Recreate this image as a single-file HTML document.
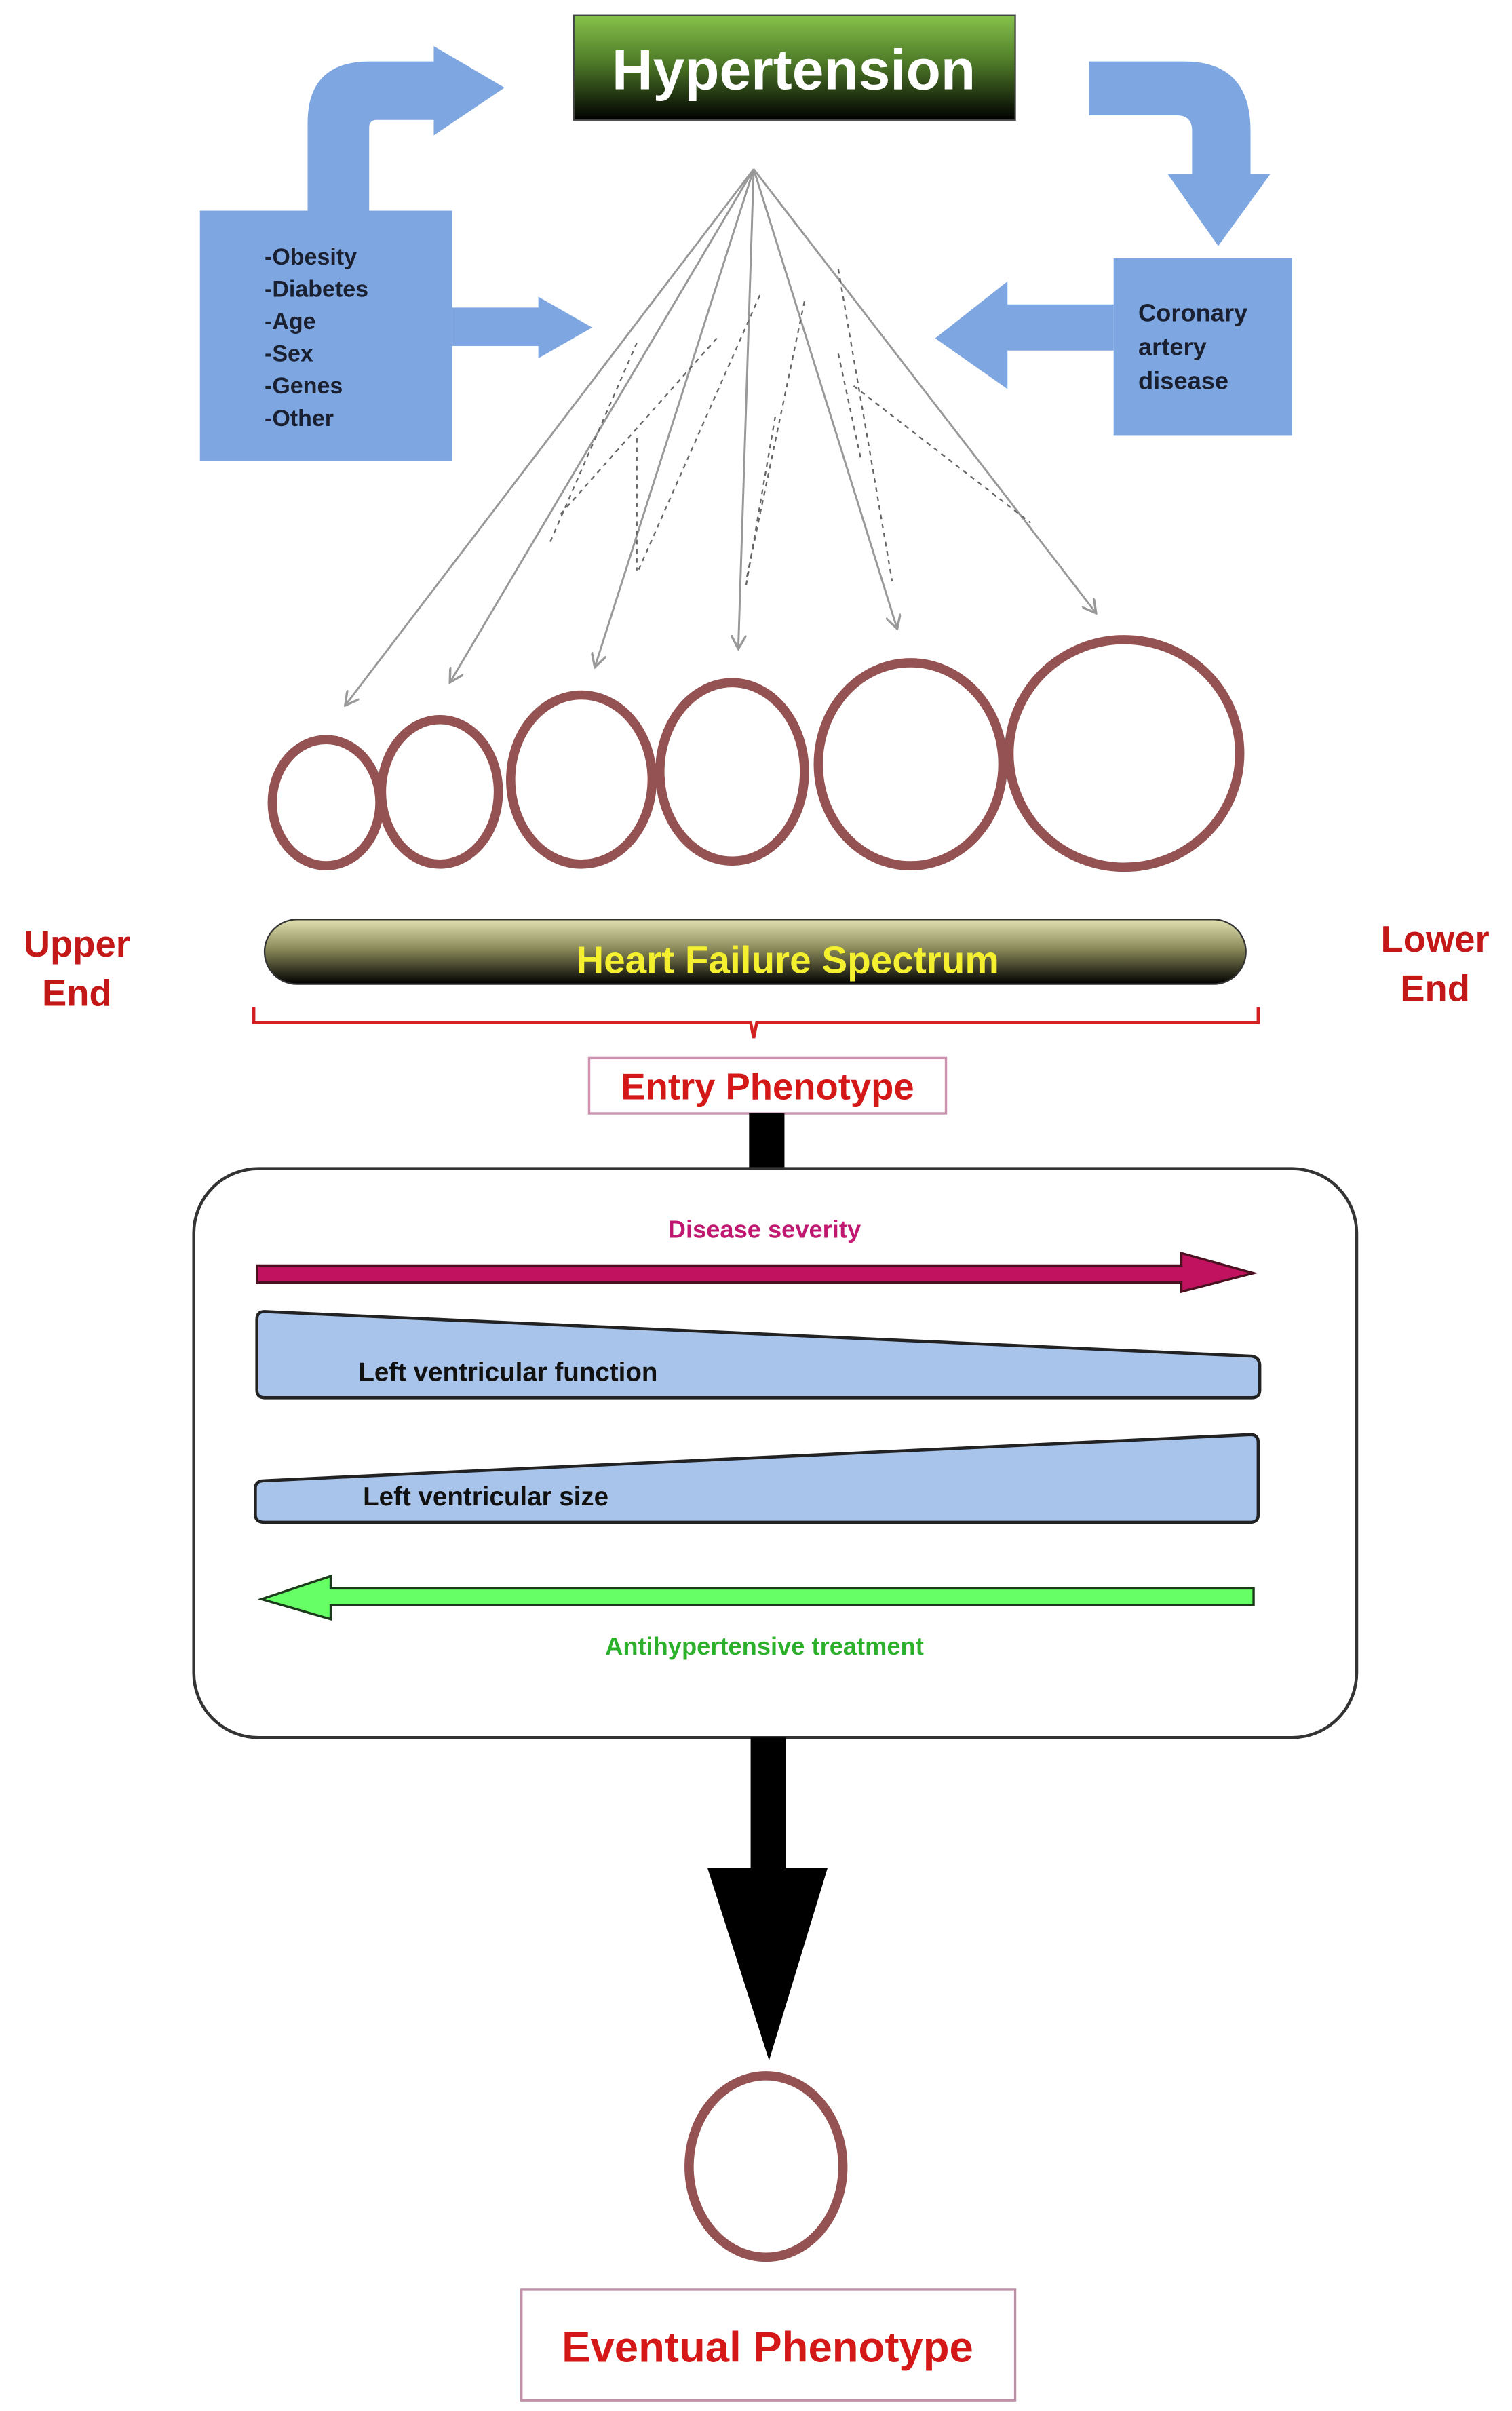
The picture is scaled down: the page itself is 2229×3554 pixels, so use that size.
<!DOCTYPE html>
<html><head><meta charset="utf-8"><style>
html,body{margin:0;padding:0;background:#fff;}
svg{display:block;}
text{font-family:"Liberation Sans",sans-serif;font-weight:bold;}
</style></head><body>
<svg width="2229" height="3554" viewBox="0 0 983 1568" preserveAspectRatio="none" xmlns="http://www.w3.org/2000/svg">
<defs>
<linearGradient id="hg" x1="0" y1="0" x2="0" y2="1"><stop offset="0" stop-color="#86c24a"/><stop offset="0.45" stop-color="#4e7a28"/><stop offset="1" stop-color="#000"/></linearGradient>
<linearGradient id="pg" x1="0" y1="0" x2="0" y2="1"><stop offset="0" stop-color="#e0e0b0"/><stop offset="0.45" stop-color="#8a8a5a"/><stop offset="1" stop-color="#000"/></linearGradient>
<marker id="ah" markerWidth="10" markerHeight="10" refX="8" refY="5" orient="auto" markerUnits="userSpaceOnUse"><path d="M0,0 L9,5 L0,10" fill="none" stroke="#999" stroke-width="1.5"/></marker>
</defs>
<rect width="983" height="1568" fill="#fff"/>

<!-- Hypertension -->
<rect x="373" y="10" width="287" height="68" fill="url(#hg)" stroke="#444" stroke-width="1"/>
<text x="516" y="58" font-size="37" fill="#fff" text-anchor="middle">Hypertension</text>

<!-- left elbow arrow -->
<path d="M200,137 L200,80 Q200,40 240,40 L282,40 L282,30 L328,57 L282,88 L282,78 L245,78 Q240,78 240,83 L240,137 Z" fill="#7ea6e0"/>
<!-- right elbow arrow -->
<path d="M708,40 L770,40 Q813,40 813,85 L813,113 L826,113 L792,160 L759,113 L775,113 L775,85 Q775,75 765,75 L708,75 Z" fill="#7ea6e0"/>

<!-- left box -->
<rect x="130" y="137" width="164" height="163" fill="#7ea6e0"/>
<g font-size="15" fill="#1a2030">
<text x="172" y="172">-Obesity</text>
<text x="172" y="193">-Diabetes</text>
<text x="172" y="214">-Age</text>
<text x="172" y="235">-Sex</text>
<text x="172" y="256">-Genes</text>
<text x="172" y="277">-Other</text>
</g>
<path d="M294,200 L350,200 L350,193 L385,213 L350,233 L350,225 L294,225 Z" fill="#7ea6e0"/>

<!-- coronary -->
<rect x="724" y="168" width="116" height="115" fill="#7ea6e0"/>
<g font-size="16" fill="#1a2030">
<text x="740" y="209">Coronary</text>
<text x="740" y="231">artery</text>
<text x="740" y="253">disease</text>
</g>
<path d="M724,198 L655,198 L655,183 L608,220 L655,253 L655,228 L724,228 Z" fill="#7ea6e0"/>

<!-- fan lines -->
<g stroke="#999" stroke-width="1.3" fill="none" marker-end="url(#ah)">
<line x1="490" y1="110" x2="225" y2="458"/>
<line x1="490" y1="110" x2="293" y2="443"/>
<line x1="490" y1="110" x2="387" y2="433"/>
<line x1="490" y1="110" x2="480" y2="421"/>
<line x1="490" y1="110" x2="583" y2="408"/>
<line x1="490" y1="110" x2="712" y2="398"/>
</g>
<g stroke="#666" stroke-width="1" stroke-dasharray="3,3" fill="none">
<line x1="414" y1="223" x2="357" y2="354"/>
<line x1="494" y1="192" x2="415" y2="371"/>
<line x1="466" y1="220" x2="363" y2="336"/>
<line x1="523" y1="196" x2="485" y2="378"/>
<line x1="545" y1="175" x2="580" y2="378"/>
<line x1="555" y1="251" x2="670" y2="340"/>
<line x1="414" y1="285" x2="414" y2="371"/>
<line x1="504" y1="271" x2="485" y2="381"/>
<line x1="545" y1="230" x2="560" y2="300"/>
</g>

<!-- circles -->
<g fill="none" stroke="#955252" stroke-width="6">
<ellipse cx="212" cy="522" rx="35" ry="41"/>
<ellipse cx="286" cy="515" rx="38" ry="47"/>
<ellipse cx="378" cy="507" rx="46" ry="55"/>
<ellipse cx="476" cy="502" rx="47" ry="58"/>
<ellipse cx="592" cy="497" rx="60" ry="66"/>
<ellipse cx="731" cy="490" rx="75" ry="74"/>
</g>

<!-- spectrum -->
<rect x="172" y="598" width="638" height="42" rx="21" fill="url(#pg)" stroke="#333" stroke-width="1"/>
<text x="512" y="633" font-size="25" fill="#f4f030" text-anchor="middle">Heart Failure Spectrum</text>
<g font-size="24" fill="#c41818" text-anchor="middle">
<text x="50" y="622">Upper</text><text x="50" y="654">End</text>
<text x="933" y="619">Lower</text><text x="933" y="651">End</text>
</g>
<path d="M165,655 L165,665 L488,665 L490,675 L492,665 L818,665 L818,655" fill="none" stroke="#d42020" stroke-width="2"/>

<rect x="383" y="688" width="232" height="36" fill="#fff" stroke="#d090b0" stroke-width="1.5"/>
<text x="499" y="715" font-size="24" fill="#d41818" text-anchor="middle">Entry Phenotype</text>
<rect x="487" y="724" width="23" height="37" fill="#000"/>

<!-- box -->
<rect x="126" y="760" width="756" height="370" rx="42" fill="#fff" stroke="#333" stroke-width="2"/>
<text x="497" y="805" font-size="16" fill="#c01870" text-anchor="middle">Disease severity</text>
<path d="M167,823 L768,823 L768,815 L815,828 L768,840 L768,834 L167,834 Z" fill="#c0125e" stroke="#4a1020" stroke-width="1.5"/>
<path d="M172,853 L814,882 Q819,883 819,888 L819,904 Q819,909 814,909 L172,909 Q167,909 167,904 L167,858 Q167,853 172,853 Z" fill="#a8c4ea" stroke="#222" stroke-width="2"/>
<text x="233" y="898" font-size="17" fill="#111">Left ventricular function</text>
<path d="M172,963 L813,933 Q818,933 818,938 L818,985 Q818,990 813,990 L172,990 Q166,990 166,985 L166,968 Q166,963 172,963 Z" fill="#a8c4ea" stroke="#222" stroke-width="2"/>
<text x="236" y="979" font-size="17" fill="#111">Left ventricular size</text>
<path d="M815,1033 L215,1033 L215,1025 L170,1040 L215,1053 L215,1044 L815,1044 Z" fill="#66ff66" stroke="#1a3a1a" stroke-width="1.5"/>
<text x="497" y="1076" font-size="16" fill="#2cb02c" text-anchor="middle">Antihypertensive treatment</text>

<!-- big arrow -->
<rect x="488" y="1130" width="23" height="86" fill="#000"/>
<path d="M460,1215 L538,1215 L500,1340 Z" fill="#000"/>
<ellipse cx="498" cy="1409" rx="50" ry="59" fill="none" stroke="#955252" stroke-width="6"/>
<rect x="339" y="1489" width="321" height="72" fill="#fff" stroke="#c090a8" stroke-width="1.5"/>
<text x="499" y="1536" font-size="28" fill="#d41818" text-anchor="middle">Eventual Phenotype</text>
</svg>
</body></html>
